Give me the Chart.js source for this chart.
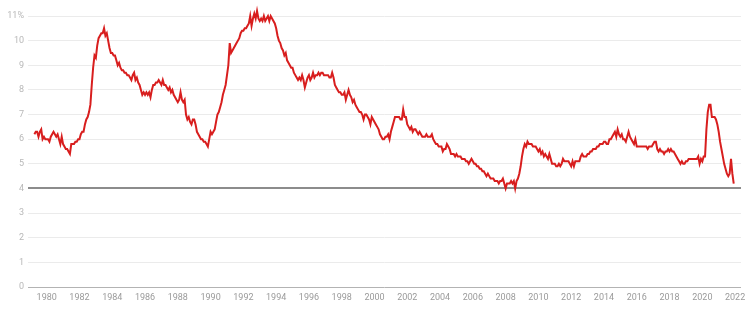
<!DOCTYPE html>
<html>
<head>
<meta charset="utf-8">
<title>Unemployment rate</title>
<script src="https://cdn.jsdelivr.net/npm/chart.js@4.4.1/dist/chart.umd.min.js"></script>
<style>
	html, body { margin: 0; padding: 0; background: #fff; }
	#wrap { width: 754px; height: 310px; }
</style>
</head>
<body>
<div id="wrap"><canvas id="chart" width="754" height="310"></canvas></div>
<script>
// monthly series, first value is April 1979
const START_YEAR = 1979;
const START_MONTH = 4;

const rates = [
	6.2, 6.3, 6.3, 6.1, 6.3, 6.4, 6.0, 6.1, 6.0,                  // 1979 (Apr-Dec)
	6.0, 6.0, 5.9, 6.1, 6.2, 6.3, 6.2, 6.1, 6.2, 6.0, 5.8, 6.1,   // 1980
	5.8, 5.7, 5.6, 5.6, 5.5, 5.4, 5.8, 5.8, 5.8, 5.9, 5.9, 6.0,   // 1981
	6.0, 6.2, 6.3, 6.3, 6.6, 6.8, 6.9, 7.1, 7.4, 8.2, 8.9, 9.4,   // 1982
	9.3, 9.8, 10.1, 10.2, 10.3, 10.3, 10.5, 10.2, 10.3, 10.0, 9.7, 9.5, // 1983
	9.5, 9.4, 9.4, 9.2, 9.0, 9.1, 8.9, 8.8, 8.8, 8.7, 8.7, 8.6,   // 1984
	8.6, 8.5, 8.4, 8.6, 8.7, 8.4, 8.5, 8.3, 8.2, 8.0, 7.8, 7.9,   // 1985
	7.8, 7.9, 7.8, 7.9, 7.7, 8.0, 8.2, 8.2, 8.3, 8.3, 8.4, 8.3,   // 1986
	8.2, 8.4, 8.2, 8.2, 8.1, 8.0, 8.1, 7.9, 8.0, 7.8, 7.7, 7.6,   // 1987
	7.5, 7.6, 7.9, 7.6, 7.5, 7.6, 7.0, 6.8, 6.9, 6.7, 6.6, 6.8,   // 1988
	6.8, 6.6, 6.3, 6.2, 6.1, 6.0, 6.0, 5.9, 5.9, 5.8, 5.7, 6.0,   // 1989
	6.3, 6.2, 6.3, 6.4, 6.7, 7.0, 7.1, 7.3, 7.5, 7.8, 8.0, 8.2,   // 1990
	8.6, 9.0, 9.9, 9.5, 9.6, 9.7, 9.8, 9.9, 10.0, 10.1, 10.3, 10.4, // 1991
	10.4, 10.5, 10.5, 10.6, 10.7, 11.0, 10.6, 10.9, 11.1, 10.9, 11.2, 10.9, // 1992
	10.8, 10.9, 10.8, 11.0, 10.8, 10.9, 11.0, 10.8, 11.0, 10.9, 10.8, 10.7, // 1993
	10.5, 10.2, 10.0, 9.9, 9.7, 9.6, 9.4, 9.5, 9.2, 9.1, 9.0, 8.9, // 1994
	8.9, 8.7, 8.6, 8.5, 8.4, 8.5, 8.4, 8.6, 8.4, 8.1, 8.3, 8.5,   // 1995
	8.6, 8.4, 8.5, 8.7, 8.5, 8.6, 8.6, 8.7, 8.6, 8.7, 8.7, 8.6,   // 1996
	8.6, 8.6, 8.6, 8.5, 8.5, 8.7, 8.5, 8.2, 8.1, 8.0, 7.9, 7.9,   // 1997
	7.8, 7.8, 7.9, 7.6, 7.8, 8.0, 7.8, 7.7, 7.5, 7.6, 7.4, 7.3,   // 1998
	7.2, 7.1, 7.1, 7.0, 6.8, 7.0, 7.0, 6.9, 6.8, 6.6, 6.9, 6.8,   // 1999
	6.7, 6.6, 6.5, 6.4, 6.2, 6.1, 6.0, 6.0, 6.1, 6.1, 6.2, 6.0,   // 2000
	6.3, 6.5, 6.7, 6.9, 6.9, 6.9, 6.9, 6.8, 6.8, 7.2, 6.9, 6.9,   // 2001
	6.6, 6.5, 6.4, 6.5, 6.3, 6.4, 6.4, 6.3, 6.2, 6.3, 6.2, 6.1,   // 2002
	6.1, 6.1, 6.2, 6.1, 6.1, 6.1, 6.2, 6.0, 5.9, 5.8, 5.8, 5.7,   // 2003
	5.7, 5.7, 5.5, 5.6, 5.6, 5.8, 5.7, 5.6, 5.4, 5.4, 5.4, 5.3,   // 2004
	5.4, 5.3, 5.3, 5.3, 5.2, 5.2, 5.2, 5.1, 5.1, 5.0, 5.1, 5.2,   // 2005
	5.1, 5.0, 5.0, 4.9, 4.9, 4.8, 4.8, 4.7, 4.7, 4.6, 4.5, 4.6,   // 2006
	4.5, 4.4, 4.4, 4.4, 4.3, 4.3, 4.3, 4.2, 4.3, 4.3, 4.4, 4.2,   // 2007
	4.0, 4.2, 4.2, 4.2, 4.3, 4.2, 4.3, 4.0, 4.3, 4.4, 4.6, 4.9,   // 2008
	5.3, 5.6, 5.8, 5.7, 5.9, 5.8, 5.8, 5.8, 5.7, 5.7, 5.7, 5.6,   // 2009
	5.5, 5.6, 5.4, 5.5, 5.3, 5.4, 5.3, 5.2, 5.4, 5.2, 5.0, 5.0,   // 2010
	5.0, 4.9, 4.9, 5.0, 4.9, 5.0, 5.2, 5.1, 5.1, 5.1, 5.1, 5.0,   // 2011
	4.9, 5.1, 4.9, 5.1, 5.1, 5.1, 5.1, 5.3, 5.4, 5.3, 5.3, 5.3,   // 2012
	5.4, 5.4, 5.5, 5.5, 5.6, 5.6, 5.6, 5.7, 5.7, 5.8, 5.8, 5.8,   // 2013
	5.9, 5.9, 5.8, 5.8, 6.0, 6.0, 6.1, 6.2, 6.3, 6.1, 6.4, 6.2,   // 2014
	6.1, 6.2, 6.0, 6.0, 5.9, 6.1, 6.3, 6.1, 6.0, 5.9, 5.8, 6.0,   // 2015
	5.7, 5.7, 5.7, 5.7, 5.7, 5.7, 5.7, 5.7, 5.6, 5.7, 5.7, 5.7,   // 2016
	5.8, 5.9, 5.9, 5.6, 5.5, 5.6, 5.5, 5.5, 5.4, 5.5, 5.5, 5.6,   // 2017
	5.5, 5.6, 5.5, 5.5, 5.4, 5.3, 5.2, 5.1, 5.0, 5.1, 5.0, 5.0,   // 2018
	5.1, 5.1, 5.2, 5.2, 5.2, 5.2, 5.2, 5.2, 5.2, 5.3, 5.0, 5.2,   // 2019
	5.1, 5.3, 5.3, 6.4, 7.1, 7.4, 7.4, 6.9, 6.9, 6.9, 6.8, 6.6,   // 2020
	6.3, 5.9, 5.6, 5.3, 5.0, 4.8, 4.6, 4.5, 4.6, 5.2, 4.6, 4.2    // 2021
];

const xTicks = [1980, 1982, 1984, 1986, 1988, 1990, 1992, 1994, 1996, 1998, 2000,
	2002, 2004, 2006, 2008, 2010, 2012, 2014, 2016, 2018, 2020, 2022];
const yTicks = [0, 1, 2, 3, 4, 5, 6, 7, 8, 9, 10, 11];

const points = rates.map((v, i) => {
	const m = START_MONTH - 1 + i;
	return { x: START_YEAR + m / 12, y: v };
});

const FONT = { family: 'Roboto, "Open Sans", sans-serif', size: 9 };

new Chart(document.getElementById('chart'), {
	type: 'line',
	data: {
		datasets: [{
			data: points,
			borderColor: '#d81e1e',
			borderWidth: 2,
			pointRadius: 0,
			tension: 0,
			fill: false,
			clip: false // the 1992 peaks go a little past the 11% line
		}]
	},
	options: {
		responsive: false,
		animation: false,
		layout: { padding: { top: 16, right: 13, left: 0, bottom: 0 } },
		plugins: {
			legend: { display: false },
			tooltip: { enabled: false }
		},
		scales: {
			x: {
				type: 'linear',
				min: 1978.86,
				max: 2022.36,
				afterBuildTicks: s => { s.ticks = xTicks.map(v => ({ value: v })); },
				afterFit: s => { s.height = 23; },
				grid: { display: false, drawTicks: false },
				border: { display: false },
				ticks: {
					padding: 5,
					maxRotation: 0,
					autoSkip: false,
					color: '#9a9a9a',
					font: FONT,
					callback: v => String(v)
				}
			},
			y: {
				min: 0,
				max: 11,
				afterBuildTicks: s => { s.ticks = yTicks.map(v => ({ value: v })); },
				afterFit: s => { s.width = 28; },
				border: { display: false },
				grid: {
					drawTicks: false,
					color: c => c.tick.value === 4 ? '#8c8c8c' : (c.tick.value === 0 ? '#b3b3b3' : '#ebebeb'),
					lineWidth: c => c.tick.value === 4 ? 2 : 1
				},
				ticks: {
					padding: 4,
					color: '#b8b8b8',
					font: FONT,
					callback: v => v === 11 ? '11%' : String(v)
				}
			}
		}
	}
});
</script>
</body>
</html>
